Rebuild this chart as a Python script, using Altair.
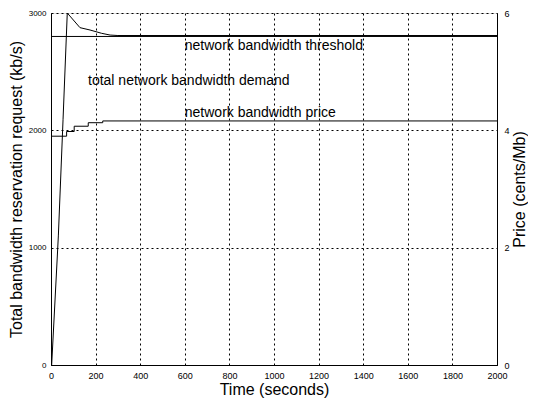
import altair as alt
import pandas as pd

# Demand curve (kb/s) vs time (s)
demand_t = [0, 3, 33, 54, 73, 130, 175, 227, 265, 300, 2000]
demand_v = [0, 0, 1100, 2090, 3000, 2875, 2855, 2827, 2812, 2808, 2808]
# Threshold (kb/s)
threshold_t = [0, 2000]
threshold_v = [2800, 2800]
# Price (cents/Mb), step function
price_t = [0, 70, 104, 167, 232, 2000]
price_v = [3.90, 3.98, 4.07, 4.13, 4.16, 4.16]
# Annotations (in left-axis units)
label_text = ["network bandwidth threshold", "total network bandwidth demand", "network bandwidth price"]
label_t = [600, 166, 600]
label_v = [2715, 2420, 2150]

x_ticks = list(range(0, 2001, 200))
left_ticks = [0, 1000, 2000, 3000]
right_ticks = [0, 2, 4, 6]

FONT = "Liberation Sans"

demand_df = pd.DataFrame({"t": demand_t, "v": demand_v})
thr_df = pd.DataFrame({"t": threshold_t, "v": threshold_v})
price_df = pd.DataFrame({"t": price_t, "p": price_v})
lab_df = pd.DataFrame({"t": label_t, "v": label_v, "txt": label_text})

xscale = alt.Scale(domain=[0, 2000], nice=False, zero=False)
yscale = alt.Scale(domain=[0, 3000], nice=False)

x_axis = alt.Axis(values=x_ticks, title="Time (seconds)", grid=True,
                  gridColor="black", gridDash=[2, 3], gridOpacity=1, gridWidth=1,
                  ticks=False, labelPadding=6, labelFontSize=9, labelFont=FONT,
                  labelColor="black", titleFont=FONT, titleFontSize=16,
                  titleFontWeight="normal", titleColor="black", titlePadding=1,
                  domainColor="black", labelFlush=False, format="d")

left_axis = alt.Axis(values=left_ticks, title="Total bandwidth reservation request (kb/s)",
                     grid=True, gridColor="black", gridDash=[2, 3], gridOpacity=1,
                     ticks=False, labelPadding=5, labelFontSize=8, labelFont=FONT,
                     labelColor="black", titleFont=FONT, titleFontSize=16,
                     titleFontWeight="normal", titleColor="black", titlePadding=4,
                     domainColor="black", format="d")

right_axis = alt.Axis(values=right_ticks, title="Price (cents/Mb)", orient="right",
                      grid=False, ticks=False, labelPadding=7, labelFontSize=9,
                      labelFont=FONT, labelColor="black", titleFont=FONT,
                      titleFontSize=16, titleFontWeight="normal", titleColor="black",
                      titlePadding=2, titleAngle=270, titleBaseline="top",
                      domainColor="black")

demand = alt.Chart(demand_df).mark_line(color="black", strokeWidth=1).encode(
    x=alt.X("t:Q", scale=xscale, axis=x_axis),
    y=alt.Y("v:Q", scale=yscale, axis=left_axis),
)
threshold = alt.Chart(thr_df).mark_line(color="black", strokeWidth=1).encode(
    x=alt.X("t:Q", scale=xscale),
    y=alt.Y("v:Q", scale=yscale),
)
labels = alt.Chart(lab_df).mark_text(align="left", baseline="middle", font=FONT,
                                     fontSize=14, color="black").encode(
    x=alt.X("t:Q", scale=xscale),
    y=alt.Y("v:Q", scale=yscale),
    text="txt:N",
)
left = alt.layer(demand, threshold, labels)

price = alt.Chart(price_df).mark_line(color="black", strokeWidth=1,
                                      interpolate="step-after").encode(
    x=alt.X("t:Q", scale=xscale),
    y=alt.Y("p:Q", scale=alt.Scale(domain=[0, 6], nice=False), axis=right_axis),
)

chart = alt.layer(left, price).resolve_scale(y="independent").properties(
    width=446, height=352,
    autosize=alt.AutoSizeParams(type="none"),
    padding={"left": 43, "top": 5, "right": 31, "bottom": 34},
).configure_view(stroke="black", strokeWidth=1).configure(background="white")

chart.save("out.html", embed_options={"renderer": "svg", "actions": False})
